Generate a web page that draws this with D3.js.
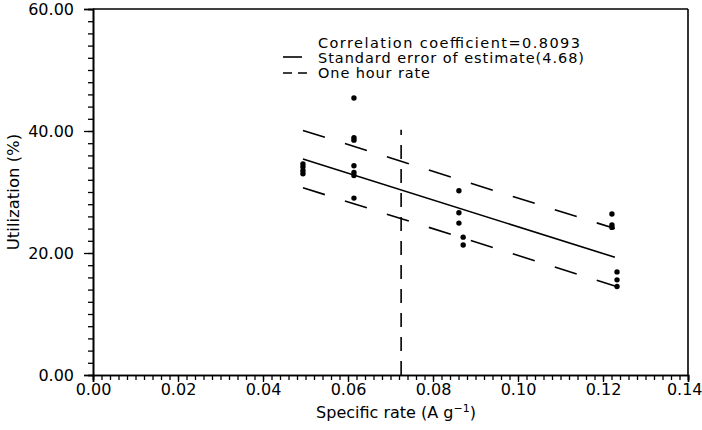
<!DOCTYPE html>
<html><head><meta charset="utf-8">
<script src="https://cdn.jsdelivr.net/npm/d3@7"></script>
<style>body{margin:0;background:#fff}svg{display:block}</style>
</head><body>
<svg id="c" width="702" height="430"></svg>
<script>
// ---- data ----
const rate = [0.0494,0.0494,0.0494,0.0494,
  0.0614,0.0614,0.0614,0.0614,0.0614,0.0614,0.0614,
  0.0861,0.0861,0.0861,0.0871,0.0871,
  0.1221,0.1221,0.1221,0.1233,0.1233,0.1233];
const utilization = [34.6,34.1,33.5,33.0,
  45.4,38.9,38.5,34.3,33.2,32.7,29.0,
  30.2,26.6,24.9,22.6,21.3,
  26.4,24.6,24.2,16.9,15.6,14.5];
const fitX = [0.0494, 0.1228];
const fitY = [35.4, 19.3];
const upperY = [40.1, 24.0];
const lowerY = [30.7, 14.6];
const oneHourRate = 0.0725;
const oneHourY = [0, 40.2];
const yTicks = [0, 20, 40, 60];
const xTicks = [0, 0.02, 0.04, 0.06, 0.08, 0.10, 0.12, 0.14];
const legendText = ["Correlation coefficient=0.8093", "Standard error of estimate(4.68)", "One hour rate"];

const svg = d3.select("#c");
const L = 93, R = 688, T = 9, B = 375;
const x = d3.scaleLinear([0, 0.14], [L, R]);
const y = d3.scaleLinear([0, 60], [B, T]);
const font = "'DejaVu Sans', sans-serif";

// frame top & right
svg.append("line").attr("x1", L).attr("x2", R).attr("y1", T).attr("y2", T).attr("stroke", "#000").attr("stroke-width", 1.6);
svg.append("line").attr("x1", R).attr("x2", R).attr("y1", T).attr("y2", B).attr("stroke", "#000").attr("stroke-width", 1.6);

// y axis
svg.append("g").attr("transform", `translate(${L},0)`)
  .call(d3.axisLeft(y).tickValues(d3.range(0, 61, 2)).tickSize(5).tickFormat(""));
svg.append("g").attr("transform", `translate(${L},0)`)
  .call(d3.axisLeft(y).tickValues(yTicks).tickSize(9).tickPadding(10).tickFormat(d3.format(".2f")));
// x axis
svg.append("g").attr("transform", `translate(0,${B})`)
  .call(d3.axisBottom(x).tickValues(d3.range(0, 71).map(i => i * 0.002)).tickSize(5).tickFormat(""));
const xMajor = svg.append("g").attr("transform", `translate(0,${B})`)
  .call(d3.axisBottom(x).tickValues(xTicks).tickSize(7).tickPadding(2).tickFormat(d3.format(".2f")));

svg.selectAll(".domain").attr("stroke", "#000").attr("stroke-width", 1.6);
svg.selectAll(".tick line").attr("stroke", "#000").attr("stroke-width", 1.3);
svg.selectAll(".tick text").attr("font-family", font).attr("font-size", 16).attr("fill", "#000");
xMajor.selectAll(".tick:last-of-type text").attr("text-anchor", "end").attr("dx", 14);

// axis titles
svg.append("text").attr("x", 396).attr("y", 418).attr("text-anchor", "middle")
  .attr("font-family", font).attr("font-size", 16).attr("fill", "#000")
  .html('Specific rate (A g<tspan dy="-6" font-size="11">−1</tspan><tspan dy="6">)</tspan>');
svg.append("text").attr("transform", "translate(19,192) rotate(-90)").attr("text-anchor", "middle")
  .attr("font-family", font).attr("font-size", 16.5).attr("fill", "#000").text("Utilization (%)");

// regression line
const lineGen = d3.line().x(d => x(d[0])).y(d => y(d[1]));
svg.append("path").attr("d", lineGen(d3.zip(fitX, fitY))).attr("fill", "none").attr("stroke", "#000").attr("stroke-width", 1.6);
svg.append("path").attr("d", lineGen(d3.zip(fitX, upperY))).attr("fill", "none").attr("stroke", "#000").attr("stroke-width", 1.6).attr("stroke-dasharray", "23,21");
svg.append("path").attr("d", lineGen(d3.zip(fitX, lowerY))).attr("fill", "none").attr("stroke", "#000").attr("stroke-width", 1.6).attr("stroke-dasharray", "23,21");

// one hour rate
svg.append("path").attr("d", lineGen(oneHourY.map(v => [oneHourRate, v]))).attr("fill", "none")
  .attr("stroke", "#000").attr("stroke-width", 1.6).attr("stroke-dasharray", "14,10");

// points
svg.append("g").selectAll("circle").data(d3.zip(rate, utilization)).join("circle")
  .attr("cx", d => x(d[0])).attr("cy", d => y(d[1])).attr("r", 2.7).attr("fill", "#000");

// legend
const lg = svg.append("g");
const lens = [262, 266, 112];
const ly = [48, 63, 78];
legendText.forEach((t, i) => {
  lg.append("text").attr("x", 318).attr("y", ly[i]).attr("font-family", font).attr("font-size", 14.5)
    .attr("fill", "#000").attr("textLength", lens[i]).attr("lengthAdjust", "spacing").text(t);
});
lg.append("line").attr("x1", 283).attr("x2", 302).attr("y1", 57).attr("y2", 57).attr("stroke", "#000").attr("stroke-width", 1.6);
lg.append("line").attr("x1", 283).attr("x2", 307).attr("y1", 73).attr("y2", 73).attr("stroke", "#000").attr("stroke-width", 1.6).attr("stroke-dasharray", "9,6");
</script>
</body></html>
